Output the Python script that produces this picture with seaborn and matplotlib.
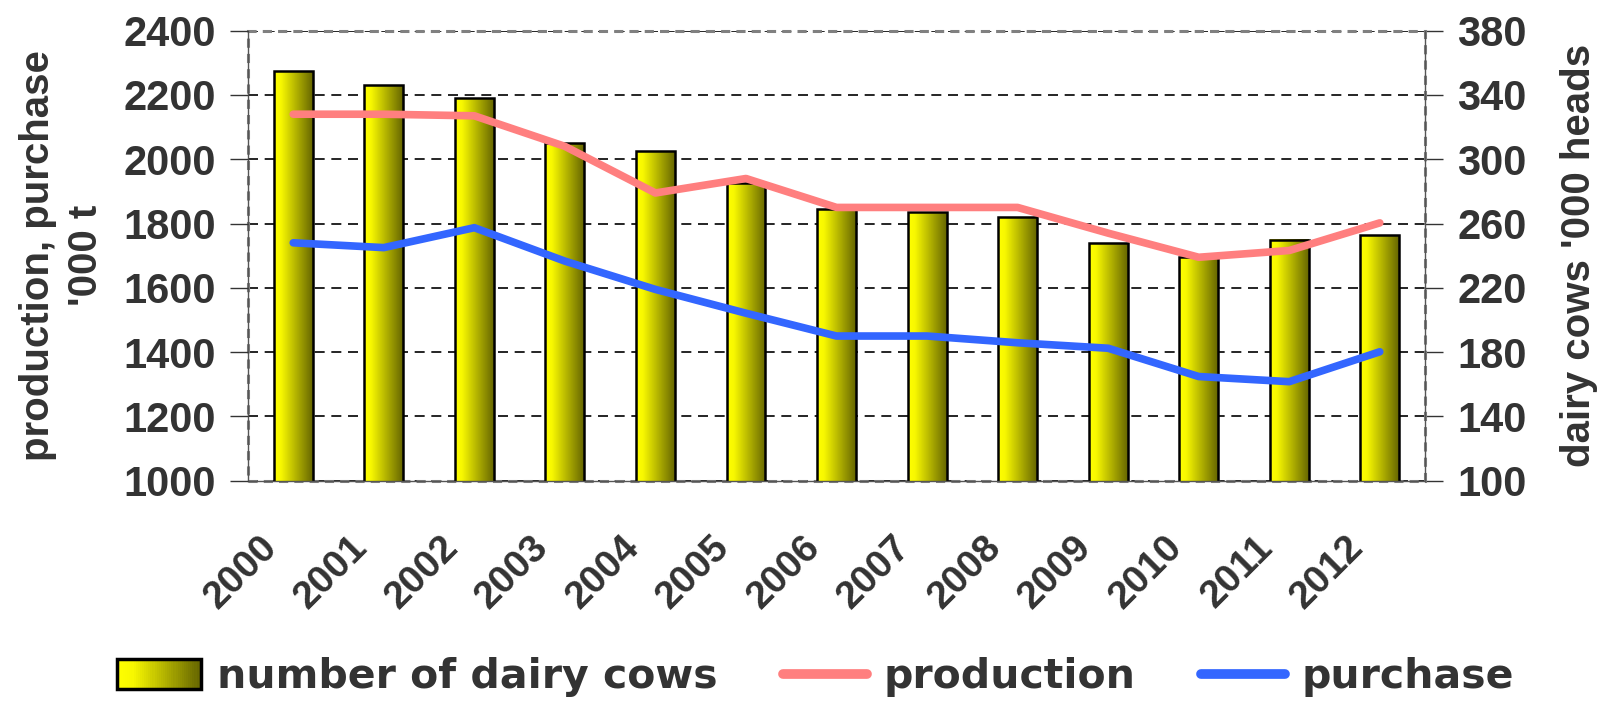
import numpy as np
import matplotlib
matplotlib.use("Agg")
import matplotlib.pyplot as plt
import matplotlib.transforms as mtransforms
import seaborn as sns
from matplotlib.patches import Rectangle
from matplotlib.lines import Line2D
from matplotlib.legend_handler import HandlerBase
from matplotlib.colors import LinearSegmentedColormap

# ---- data ----
years = ["2000", "2001", "2002", "2003", "2004", "2005", "2006",
         "2007", "2008", "2009", "2010", "2011", "2012"]
dairy_cows = [355, 346, 338, 310, 305, 285, 269, 267, 264, 248, 239, 250, 253]   # '000 heads
production = [2140, 2140, 2135, 2040, 1895, 1940, 1850, 1850, 1850, 1770, 1695, 1716, 1802]  # '000 t
purchase = [1740, 1725, 1787, 1683, 1595, 1521, 1450, 1450, 1429, 1412, 1324, 1308, 1401]     # '000 t

left_ticks = list(range(1000, 2401, 200))
right_ticks = list(range(100, 381, 40))

TEXT = "#333333"
PROD_COLOR = "#FF7F7F"
PURCH_COLOR = "#3366FF"
FONT = "Liberation Sans"
TICK_FS = 30
YEAR_FS = 28
LABEL_FS = 29
LEGEND_FS = 29.5

sns.set_style("white")
plt.rcParams["font.family"] = [FONT, "DejaVu Sans"]
plt.rcParams["font.weight"] = "bold"

bar_cmap = LinearSegmentedColormap.from_list(
    "cow_bar", [(0.0, "#FFFF00"), (0.18, "#F8F800"), (1.0, "#666600")])

fig = plt.figure(figsize=(16.03, 7.01), dpi=100)
ax = fig.add_axes([0.1547, 0.3143, 0.7343, 0.642])
ax2 = ax.twinx()

# bars on the dairy-cow scale (right side)
sns.barplot(x=years, y=dairy_cows, color="#FFFF00", saturation=1, width=0.43,
            edgecolor="black", linewidth=1.8, ax=ax, zorder=2)
ax.set_xlim(-0.5, len(years) - 0.5)
ax.set_ylim(100, 380)
ymin = ax.get_ylim()[0]

grad = np.linspace(0, 1, 256).reshape(1, -1)
for bar in list(ax.patches):
    x0, y0 = bar.get_x(), bar.get_y()
    w, h = bar.get_width(), bar.get_height()
    ax.imshow(grad, cmap=bar_cmap, extent=[x0, x0 + w, max(y0, ymin), y0 + h],
              aspect="auto", origin="lower", zorder=1.9)
    bar.set_facecolor("none")
ax.set_xlim(-0.5, len(years) - 0.5)
ax.set_ylim(100, 380)

ax.yaxis.tick_right()
ax.set_yticks(right_ticks)
ax.set_yticklabels([str(t) for t in right_ticks], fontsize=TICK_FS, fontweight="bold",
                   color=TEXT)
ax.yaxis.set_label_position("right")
ax.set_ylabel("dairy cows '000 heads", fontsize=LABEL_FS, fontweight="bold", color=TEXT,
              rotation=90, labelpad=24)
ax.tick_params(axis="y", which="major", direction="out", length=13, width=1,
               color="#333333", pad=10, right=True, left=False,
               labelright=True, labelleft=False)

ax.set_xticks(range(len(years)))
ax.set_xticklabels(years, rotation=45, ha="right", va="center", rotation_mode="anchor",
                   fontsize=YEAR_FS, fontweight="bold", color=TEXT)
ax.tick_params(axis="x", which="major", length=0, pad=44)
shift = mtransforms.ScaledTranslation(-22 / 100, 0, fig.dpi_scale_trans)
for lbl in ax.get_xticklabels():
    lbl.set_transform(lbl.get_transform() + shift)
ax.set_xticks(np.arange(-0.5, len(years), 1), minor=True)
ax.tick_params(axis="x", which="minor", direction="out", length=13, width=1, color="#333333")
ax.set_xlabel("")

ax.grid(axis="y", color="black", linestyle=(0, (6, 4)), linewidth=1.2)
ax.set_axisbelow(True)
for side in ("left", "right", "bottom"):
    ax.spines[side].set_visible(True)
    ax.spines[side].set_color("#555555")
    ax.spines[side].set_linewidth(1)
ax.spines["top"].set_visible(False)
ax.add_patch(Rectangle((0, 0), 1, 1, transform=ax.transAxes, fill=False,
                       edgecolor="#808080", linestyle=(0, (3, 2)), linewidth=2.2,
                       zorder=1.5, clip_on=False))

# lines on the production / purchase scale (left side)
idx = np.arange(len(years))
sns.lineplot(x=idx, y=production, color=PROD_COLOR, linewidth=5.5, ax=ax2,
             solid_capstyle="round", solid_joinstyle="round")
sns.lineplot(x=idx, y=purchase, color=PURCH_COLOR, linewidth=5.5, ax=ax2,
             solid_capstyle="round", solid_joinstyle="round")
ax2.set_ylim(1000, 2400)
ax2.yaxis.tick_left()
ax2.yaxis.set_label_position("left")
ax2.set_yticks(left_ticks)
ax2.set_yticklabels([str(t) for t in left_ticks], fontsize=TICK_FS, fontweight="bold",
                    color=TEXT)
ax2.tick_params(axis="y", direction="out", length=13, width=1, color="#333333", pad=10,
                left=True, right=False, labelleft=True, labelright=False)
ax2.set_ylabel("production, purchase\n'000 t", fontsize=LABEL_FS, fontweight="bold",
               color=TEXT, labelpad=13, linespacing=1.35)
for s in ax2.spines.values():
    s.set_visible(False)
ax2.set_xlim(-0.5, len(years) - 0.5)


class GradientBoxHandler(HandlerBase):
    def create_artists(self, legend, orig_handle, xdescent, ydescent,
                       width, height, fontsize, trans):
        n = 40
        arts = []
        for i in range(n):
            r = Rectangle((-xdescent + i * width / n, -ydescent), width / n + 0.3, height,
                          facecolor=bar_cmap(i / (n - 1)), edgecolor="none",
                          transform=trans)
            arts.append(r)
        arts.append(Rectangle((-xdescent, -ydescent), width, height, facecolor="none",
                              edgecolor="black", linewidth=2.5, transform=trans))
        return arts


bar_handle = Rectangle((0, 0), 1, 1)
handles = [bar_handle,
           Line2D([], [], color=PROD_COLOR, linewidth=7, solid_capstyle="round"),
           Line2D([], [], color=PURCH_COLOR, linewidth=7, solid_capstyle="round")]
labels = ["number of dairy cows", "production", "purchase"]
leg = fig.legend(handles, labels, loc="center", bbox_to_anchor=(0.5087, 0.034), ncol=3,
                 frameon=False, handlelength=2.05, handleheight=0.75, handletextpad=0.4,
                 columnspacing=1.6, handler_map={Rectangle: GradientBoxHandler()},
                 prop={"family": "DejaVu Sans", "weight": "bold", "size": LEGEND_FS})
for t in leg.get_texts():
    t.set_color(TEXT)

fig.savefig("out.png", dpi=100)
